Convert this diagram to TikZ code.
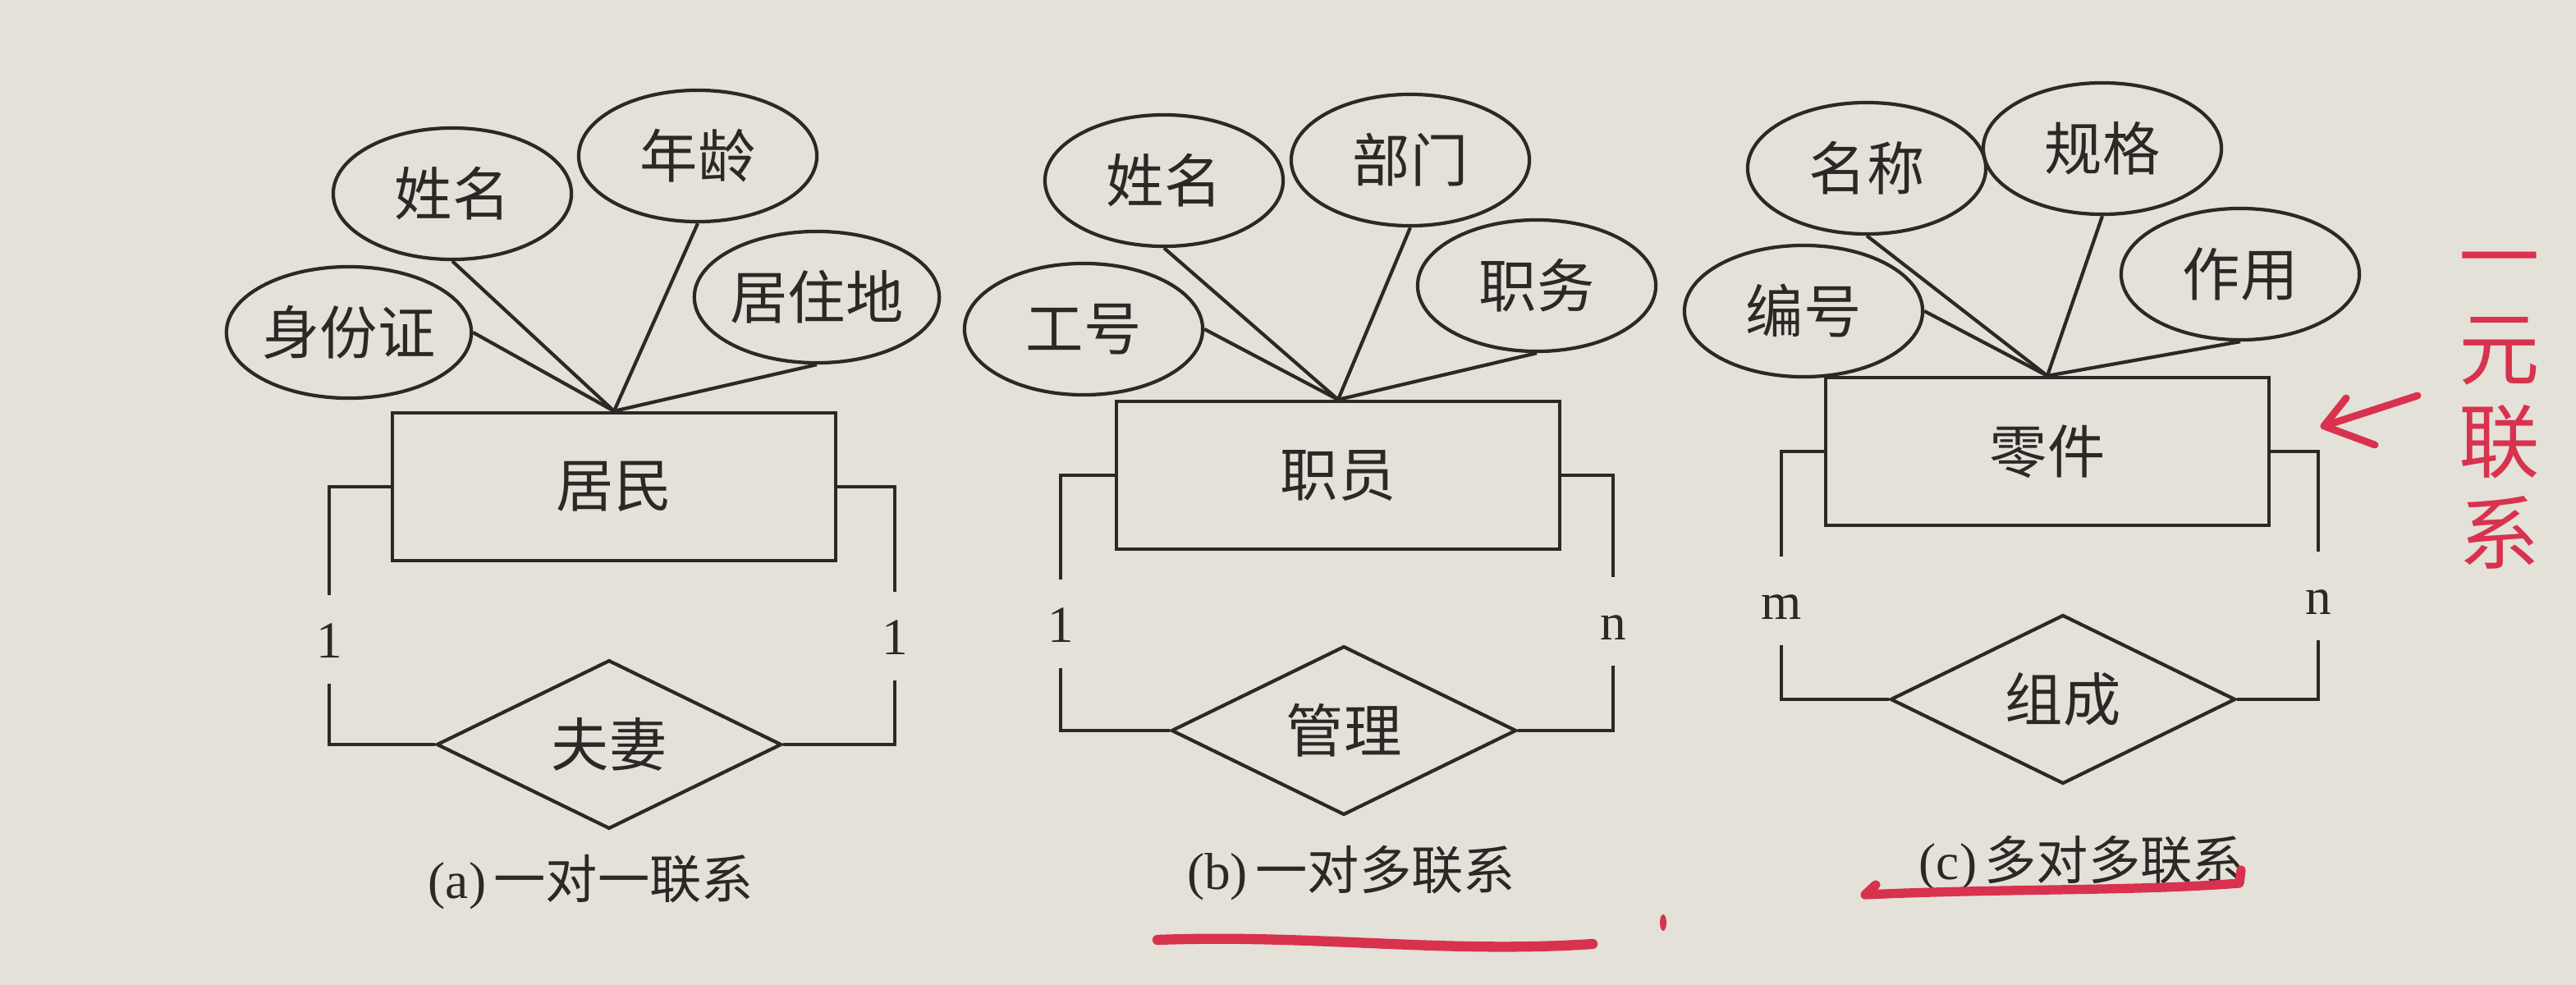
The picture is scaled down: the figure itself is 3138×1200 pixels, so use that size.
\documentclass[tikz,border=0pt]{standalone}
\usepackage{fontspec}
\setmainfont{Liberation Serif}
\newfontfamily\cjk{Noto Sans CJK SC}
\usetikzlibrary{shapes.geometric}
\definecolor{paper}{HTML}{E3E1D8}
\definecolor{ink}{HTML}{2B2926}
\definecolor{redpen}{HTML}{D8324F}

\begin{document}
\begin{tikzpicture}[x=0.01cm,y=-0.01cm,
      attr/.style={draw=ink,ellipse,minimum width=2.9cm,minimum height=1.6cm,inner sep=0pt,
        line width=1.2pt,text=ink,font=\cjk\fontsize{20}{24}\selectfont},
      ent/.style={draw=ink,rectangle,minimum width=5.4cm,minimum height=1.8cm,inner sep=0pt,
        line width=1.2pt,text=ink,font=\cjk\fontsize{20}{24}\selectfont},
      rel/.style={draw=ink,diamond,minimum width=4.2cm,minimum height=1.9cm,inner sep=0pt,
        line width=1.2pt,text=ink,font=\cjk\fontsize{20}{24}\selectfont},
      card/.style={text=ink,inner sep=0pt,text height=0.45cm,text depth=0cm,minimum height=1.06cm,
        font=\fontsize{18}{20}\selectfont},
      figcap/.style={text=ink,inner sep=0pt,font=\fontsize{18}{22}\selectfont},
      lnk/.style={draw=ink,line width=1.2pt},
      pen/.style={draw=redpen,line cap=round,line join=round}]
    \fill[paper] (0,0) rectangle (3138,1200);
    \useasboundingbox (0,0) rectangle (3138,1200);

    % (a)
    \node[ent] (ra) at (748,593) {居民};
    \node[attr] (sfz) at (425,405) {身份证};
    \node[attr] (xm1) at (551,236) {姓名};
    \node[attr] (nl) at (850,190) {年龄};
    \node[attr] (jzd) at (995,362) {居住地};
    \node[rel] (da) at (742,907) {夫妻};
    \node[card] (la1) at (401,779) {1};
    \node[card] (la2) at (1090,775) {1};
    \node[figcap] (capa) at (720,1075) {(a)\hspace{0.15em}{\cjk 一对一联系}};
    \draw[lnk] (sfz.east) -- (ra.north);
    \draw[lnk] (xm1.south) -- (ra.north);
    \draw[lnk] (nl.south) -- (ra.north);
    \draw[lnk] (jzd.south) -- (ra.north);
    \draw[lnk] (ra.west) -| (la1.north);
    \draw[lnk] (la1.south) |- (da.west);
    \draw[lnk] (ra.east) -| (la2.north);
    \draw[lnk] (la2.south) |- (da.east);

    % (b)
    \node[ent] (rb) at (1630,579) {职员};
    \node[attr] (gh) at (1320,401) {工号};
    \node[attr] (xm2) at (1418,220) {姓名};
    \node[attr] (bm) at (1718,195) {部门};
    \node[attr] (zw) at (1872,348) {职务};
    \node[rel] (db) at (1637,890) {管理};
    \node[card] (lb1) at (1292,760) {1};
    \node[card] (lbn) at (1965,757) {n};
    \node[figcap] (capb) at (1646,1064) {(b)\hspace{0.15em}{\cjk 一对多联系}};
    \draw[lnk] (gh.east) -- (rb.north);
    \draw[lnk] (xm2.south) -- (rb.north);
    \draw[lnk] (bm.south) -- (rb.north);
    \draw[lnk] (zw.south) -- (rb.north);
    \draw[lnk] (rb.west) -| (lb1.north);
    \draw[lnk] (lb1.south) |- (db.west);
    \draw[lnk] (rb.east) -| (lbn.north);
    \draw[lnk] (lbn.south) |- (db.east);

    % (c)
    \node[ent] (rc) at (2494,550) {零件};
    \node[attr] (bh) at (2197,379) {编号};
    \node[attr] (mc) at (2274,205) {名称};
    \node[attr] (gg) at (2561,181) {规格};
    \node[attr] (zy) at (2729,334) {作用};
    \node[rel] (dc) at (2513,852) {组成};
    \node[card] (lcm) at (2170,732) {m};
    \node[card] (lcn) at (2824,726) {n};
    \node[figcap] (capc) at (2536,1052) {(c)\hspace{0.15em}{\cjk 多对多联系}};
    \draw[lnk] (bh.east) -- (rc.north);
    \draw[lnk] (mc.south) -- (rc.north);
    \draw[lnk] (gg.south) -- (rc.north);
    \draw[lnk] (zy.south) -- (rc.north);
    \draw[lnk] (rc.west) -| (lcm.north);
    \draw[lnk] (lcm.south) |- (dc.west);
    \draw[lnk] (rc.east) -| (lcn.north);
    \draw[lnk] (lcn.south) |- (dc.east);

    % handwritten notes
    \node[text=redpen,align=center,inner sep=0pt,font=\cjk\fontsize{28}{32}\selectfont] (note) at (3045,500) {一\\元\\联\\系};
    \draw[pen,line width=2.5pt] (2945,482) -- (2831,519) -- (2893,542);
    \draw[pen,line width=2.5pt] (2858,485) -- (2831,519);
    \draw[pen,line width=3.5pt] (1410,1145) .. controls (1600,1138) and (1760,1162) .. (1940,1150);
    \draw[pen,line width=3.2pt] (2285,1078) -- (2272,1090) .. controls (2450,1082) and (2600,1086) .. (2728,1076) -- (2730,1060);
    \fill[redpen] (2026,1124) ellipse (4 and 10);
  \end{tikzpicture}
\end{document}
